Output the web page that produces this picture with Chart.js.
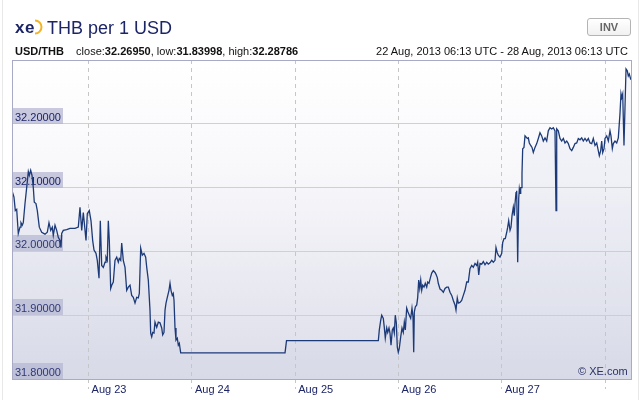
<!DOCTYPE html>
<html>
<head>
<meta charset="utf-8">
<script src="https://cdn.jsdelivr.net/npm/chart.js@4.4.0/dist/chart.umd.min.js"></script>
<style>
body { margin: 0; background: #fff; font-family: "Liberation Sans", Arial, sans-serif; }
#wrap { position: relative; width: 641px; height: 400px; overflow: hidden; }
#frame { position: absolute; left: 2px; top: 0; width: 635px; height: 400px; border-left: 1px solid #e8e8e8; border-right: 1px solid #e8e8e8; }
canvas { position: absolute; left: 0; top: 0; }
.t { position: absolute; white-space: nowrap; color: #1c2566; }
#logo { left: 15px; top: 19px; font-size: 17px; font-weight: bold; line-height: 17px; letter-spacing: 0.5px; }
#arc { position: absolute; left: 27px; top: 19px; }
#title { left: 47px; top: 19px; font-size: 18px; line-height: 18px; }
.sub { top: 46px; font-size: 11px; line-height: 11px; color: #111; }
#inv { position: absolute; left: 587px; top: 18px; width: 44px; height: 18px; box-sizing: border-box;
       border: 1px solid #b4b4b4; border-radius: 3px; background: linear-gradient(#ffffff, #f1f1f1);
       font-size: 11px; font-weight: bold; color: #666; text-align: center; line-height: 16px; }
#copy { left: 578px; top: 366px; font-size: 11px; line-height: 11px; color: #2a3366; }
</style>
</head>
<body>
<div id="wrap">
  <div id="frame"></div>
  <canvas id="fxChart" width="641" height="400"></canvas>
  <div class="t" id="logo">xe</div>
  <svg id="arc" width="16" height="16" viewBox="0 0 16 16"><path d="M8 1.5 A 6.5 6.5 0 0 1 8 14.5" stroke="#f5b321" stroke-width="2" fill="none"/></svg>
  <div class="t" id="title">THB per 1 USD</div>
  <div class="t sub" style="left:15px"><b>USD/THB</b>&nbsp;&nbsp;&nbsp; close:<b>32.26950</b>, low:<b>31.83998</b>, high:<b>32.28786</b></div>
  <div class="t sub" style="right:13px">22 Aug, 2013 06:13 UTC - 28 Aug, 2013 06:13 UTC</div>
  <div id="inv">INV</div>
  <div class="t" id="copy">© XE.com</div>
</div>
<script>
// hours since 22 Aug 06:13 UTC, rate
const aug22 = [
  [0,32.095],[0.46,32.085],[0.77,32.064],[1.09,32.066],[1.46,32.028],[1.86,32.038],[2.09,32.045],[2.39,32.041],[2.62,32.045],[3.02,32.075],
  [3.41,32.100],[3.79,32.125],[4.02,32.119],[4.34,32.127],[4.65,32.119],[4.95,32.100],[5.18,32.077],[5.57,32.075],[5.88,32.064],[6.34,32.038],
  [6.90,32.030],[7.66,32.027],[8.20,32.030],[8.59,32.045],[8.99,32.033],[9.36,32.038],[9.59,32.025],[9.99,32.041],[10.38,32.033],[10.75,32.022],
  [11.15,32.017],[11.38,32.006],[11.54,32.028],[11.91,32.033],[12.70,32.034],[13.47,32.036],[14.63,32.036],[15.40,32.038],[15.79,32.069],[16.19,32.033],
  [16.56,32.061],[16.89,32.038],[17.19,32.017],[17.49,32.059]
]
const aug23 = [
  [17.95,32.064],[18.35,32.048],[18.74,32.017],[19.05,32.002],[19.51,31.997],[19.81,31.986],[20.21,31.958],
  [20.51,32.048],[20.83,31.978],[21.21,31.975],[21.60,31.983],[21.83,31.991],[22.13,31.986],[22.37,32.048],[22.60,32.017],[22.92,31.942],
  [23.16,31.947],[23.53,31.952],[23.92,31.986],[24.32,31.991],[24.69,31.983],[24.92,31.989],[25.25,31.986],[25.48,32.013],[25.85,31.986],
  [26.25,31.975],[26.64,31.939],[27.01,31.944],[27.41,31.947],[27.80,31.931],[28.17,31.928],[28.57,31.919],[28.96,31.928],[29.33,31.927],
  [29.57,31.934],[29.89,32.005],[30.26,31.994],[30.66,31.997],[31.05,31.991],[31.29,31.975],[31.66,31.955],[32.05,31.908],[32.21,31.872],
  [32.45,31.866],[32.68,31.873],[32.98,31.872],[33.21,31.889],[33.61,31.881],[33.98,31.889],[34.37,31.888],[34.77,31.880],[35.00,31.869],
  [35.30,31.873],[35.54,31.908],[35.77,31.919],[36.07,31.928],[36.46,31.939],[36.70,31.950],[36.93,31.939],[37.23,31.931],[37.46,31.934],
  [37.63,31.923],[37.86,31.880],[38.09,31.861],[38.39,31.864],[38.63,31.853],[38.86,31.856],[39.18,31.841],[39.41,31.841]
]
const weekend = [[63.41,31.841],[63.76,31.860],[85.08,31.860]]
const aug26 = [
  [85.31,31.877],[85.63,31.892],[85.87,31.900],[86.24,31.895],[86.47,31.881],[86.70,31.864],[87.03,31.880],[87.26,31.873],[87.56,31.880],
  [87.79,31.872],[88.03,31.853],[88.33,31.877],[88.56,31.880],[88.79,31.872],[89.02,31.900],[89.26,31.888],[89.49,31.850],[89.72,31.842],
  [89.95,31.848],[90.28,31.866],[90.58,31.880],[90.88,31.873],[91.12,31.889],[91.35,31.877],[91.67,31.911],[91.97,31.905],[92.28,31.900],
  [92.60,31.895],[92.90,31.911],[93.14,31.897],[93.30,31.842],[93.44,31.905],[93.67,31.913],[94.00,31.916],[94.23,31.928],[94.46,31.955],
  [94.70,31.942],[94.93,31.955],[95.16,31.939],[95.39,31.947],[95.69,31.944],[95.99,31.950],[96.32,31.944],[96.55,31.952],[96.85,31.950],
  [97.15,31.958],[97.48,31.966],[97.85,31.970],[98.25,31.967],[98.48,31.964],[98.78,31.959],[99.01,31.950],[99.41,31.941],[99.80,31.939],
  [100.18,31.936],[100.57,31.942],[100.96,31.944],[101.34,31.944],[101.73,31.936],[102.13,31.931],[102.50,31.923],[102.89,31.916],
  [103.12,31.908],[103.42,31.927],[103.66,31.919],[104.05,31.920],[104.44,31.923],[104.82,31.931],[105.21,31.939],[105.61,31.952],
  [105.98,31.952],[106.37,31.973],[106.77,31.978],[107.14,31.975],[107.54,31.981],[107.93,31.978],[108.16,31.983],[108.40,31.963],
  [108.70,31.981],[109.09,31.980],[109.47,31.984],[109.86,31.979],[110.26,31.983],[110.63,31.980],[111.02,31.982],[111.42,31.986],
  [111.79,31.983],[112.18,31.986],[112.41,32.006],[112.71,31.998],[112.95,31.994],[113.34,31.991]
]
const aug27 = [
  [113.74,31.997],[113.97,32.014],[114.27,32.020],[114.57,32.020],[114.90,32.030],[115.13,32.038],[115.36,32.048],[115.67,32.033],
  [115.90,32.038],[116.13,32.056],[116.43,32.069],[116.66,32.056],[116.83,32.075],[117.06,32.092],[117.22,32.095],[117.45,31.983],
  [117.69,32.083],[117.83,32.098],[117.99,32.091],[118.15,32.100],[118.29,32.100],[118.45,32.122],[118.61,32.161],[118.91,32.163],
  [119.15,32.181],[119.38,32.181],[119.68,32.177],[119.92,32.178],[120.15,32.170],[120.47,32.166],[120.78,32.163],[121.08,32.155],
  [121.47,32.163],[121.87,32.169],[122.24,32.177],[122.63,32.186],[123.03,32.181],[123.40,32.173],[123.80,32.178],[124.19,32.173],
  [124.56,32.189],[124.96,32.194],[125.35,32.192],[125.72,32.194],[126.12,32.189],[126.35,32.064],[126.51,32.192],[126.88,32.189],
  [127.28,32.177],[127.67,32.173],[128.05,32.177],[128.44,32.170],[128.84,32.173],[129.21,32.169],[129.60,32.161],[130.00,32.158],
  [130.37,32.163],[130.76,32.169],[131.16,32.170],[131.53,32.177],[131.92,32.175],[132.32,32.178],[132.69,32.173],[133.08,32.177],
  [133.48,32.173],[133.85,32.177],[134.25,32.170],[134.64,32.169],[135.01,32.177],[135.41,32.166],[135.80,32.170],[136.17,32.158],
  [136.41,32.150],[136.73,32.158],[136.96,32.173],[137.20,32.155],[137.50,32.161]
]
const aug28 = [
  [137.73,32.177],[138.12,32.181],[138.50,32.173],[138.89,32.189],[139.12,32.181],[139.43,32.161],[139.66,32.169],[140.05,32.173],
  [140.45,32.170],[140.82,32.178],[141.21,32.216],[141.44,32.247],[141.61,32.241],[141.84,32.247],[142.14,32.166],[142.37,32.225],
  [142.61,32.286],[142.91,32.283],[143.14,32.275],[143.37,32.278],[143.70,32.270],[144,32.2695]
]

// day boundaries (00:00 UTC) in hours from start
const dayTicks = [17.78, 41.78, 65.78, 89.78, 113.78, 137.78]
const dayLabels = [' Aug 23', ' Aug 24', ' Aug 25', ' Aug 26', ' Aug 27', '']
const rateTicks = [31.8, 31.9, 32.0, 32.1, 32.2]
const rateLabels = ['31.80000', '31.90000', '32.00000', '32.10000', '32.20000']

const FONT = '"Liberation Sans", Arial, sans-serif'

const plotDeco = {
    id: 'plotDeco',
    beforeDraw(chart) {
        const {ctx, chartArea: a} = chart
        const g = ctx.createLinearGradient(0, a.top, 0, a.bottom)
        g.addColorStop(0, '#ffffff')
        g.addColorStop(0.35, '#f8f8fb')
        g.addColorStop(1, '#dcdde9')
        ctx.save()
        ctx.fillStyle = g
        ctx.fillRect(a.left, a.top, a.right - a.left, a.bottom - a.top)
        ctx.restore()
    },
    beforeDatasetsDraw(chart) {
        const {ctx, chartArea: a} = chart
        const y = chart.scales.y
        ctx.save()
        ctx.font = '11px ' + FONT
        ctx.textBaseline = 'alphabetic'
        rateTicks.forEach((v, i) => {
            const py = Math.round(y.getPixelForValue(v))
            ctx.fillStyle = 'rgba(178,180,208,0.7)'
            ctx.fillRect(a.left, py - 16, 51, 16)
            ctx.fillStyle = '#1c2566'
            ctx.fillText(rateLabels[i], a.left + 3, py - 3)
        })
        ctx.restore()
    },
    afterDraw(chart) {
        const {ctx, chartArea: a} = chart
        ctx.save()
        ctx.strokeStyle = '#a9aac6'
        ctx.lineWidth = 1
        ctx.strokeRect(a.left + 0.5, a.top + 0.5, a.right - a.left - 1, a.bottom - a.top)
        ctx.restore()
    }
}

function drawChart() {
    const ctx = document.getElementById('fxChart')
    const points = [].concat(aug22, aug23, weekend, aug26, aug27, aug28).map(p => ({x: p[0], y: p[1]}))

    new Chart(ctx, {
        type: 'line',
        data: {
            datasets: [{
                data: points,
                borderColor: '#1d3a78',
                borderWidth: 1.3,
                pointRadius: 0,
                tension: 0,
                fill: 'start',
                backgroundColor: 'rgba(190,200,225,0.12)'
            }]
        },
        options: {
            responsive: false,
            animation: false,
            layout: {padding: {left: 12, right: 9, top: 60, bottom: 0}},
            plugins: {legend: {display: false}, tooltip: {enabled: false}},
            scales: {
                x: {
                    type: 'linear', min: 0, max: 144,
                    afterBuildTicks: axis => { axis.ticks = dayTicks.map(v => ({value: v})) },
                    afterFit: axis => { axis.height = 21 },
                    grid: {color: '#c6c6c6', tickColor: '#c6c6c6', tickLength: 10, tickBorderDash: [4, 4]},
                    border: {display: false, dash: [4, 4]},
                    ticks: {
                        autoSkip: false, maxRotation: 0, align: 'start', padding: -6,
                        color: '#1c2566', font: {size: 11, family: FONT},
                        callback: (v, i) => dayLabels[i]
                    }
                },
                y: {
                    min: 31.8, max: 32.3,
                    afterBuildTicks: axis => { axis.ticks = rateTicks.map(v => ({value: v})) },
                    afterFit: axis => { axis.width = 0 },
                    grid: {color: '#cfcfd6', drawTicks: false},
                    border: {display: false},
                    ticks: {display: false}
                }
            }
        },
        plugins: [plotDeco]
    })
}

document.addEventListener('DOMContentLoaded', drawChart)
</script>
</body>
</html>
